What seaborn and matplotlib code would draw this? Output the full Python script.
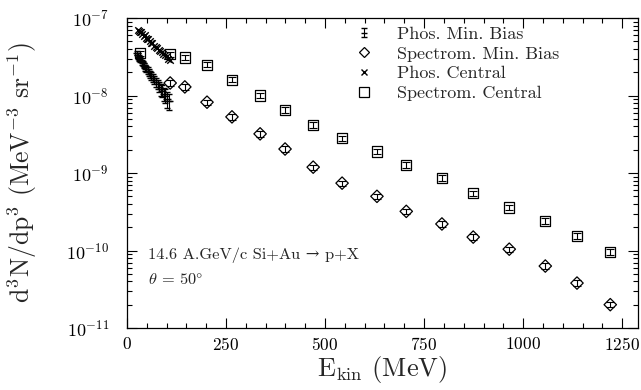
import numpy as np
import pandas as pd
import matplotlib
matplotlib.use("Agg")
import matplotlib.pyplot as plt
from matplotlib.lines import Line2D
from matplotlib.container import ErrorbarContainer
from matplotlib.legend_handler import HandlerErrorbar
from matplotlib.ticker import MultipleLocator, LogLocator, NullFormatter
import seaborn as sns

# Phoswich, minimum bias
phos_mb_e = [25, 28, 31, 34, 37, 40, 43, 46, 49, 52, 55, 58, 61, 65, 69, 73, 77, 81, 85, 89, 93, 97, 101, 105]
phos_mb_y = [3.5e-8, 3.3e-8, 3.0e-8, 2.9e-8, 2.7e-8, 2.6e-8, 2.45e-8, 2.3e-8, 2.2e-8, 2.1e-8, 2.0e-8, 1.9e-8,
             1.8e-8, 1.7e-8, 1.6e-8, 1.5e-8, 1.4e-8, 1.3e-8, 1.2e-8, 1.15e-8, 1.05e-8, 1.0e-8, 0.9e-8, 0.85e-8]
phos_mb_err = [0.2e-8, 0.2e-8, 0.2e-8, 0.2e-8, 0.2e-8, 0.2e-8, 0.2e-8, 0.2e-8, 0.2e-8, 0.2e-8, 0.2e-8, 0.2e-8,
               0.2e-8, 0.2e-8, 0.2e-8, 0.2e-8, 0.2e-8, 0.2e-8, 0.2e-8, 0.2e-8, 0.2e-8, 0.2e-8, 0.2e-8, 0.2e-8]

# Phoswich, central
phos_c_e = [27, 30, 33, 36, 39, 42, 45, 48, 51, 54, 57, 60, 64, 68, 72, 76, 80, 84, 88, 92, 96, 100, 104, 108]
phos_c_y = [7.0e-8, 6.8e-8, 6.5e-8, 6.6e-8, 6.2e-8, 5.9e-8, 6.0e-8, 5.6e-8, 5.3e-8, 5.4e-8, 5.0e-8, 4.8e-8,
            4.7e-8, 4.4e-8, 4.2e-8, 4.1e-8, 3.9e-8, 3.7e-8, 3.6e-8, 3.4e-8, 3.3e-8, 3.2e-8, 3.0e-8, 2.9e-8]

# Spectrometer, minimum bias
spec_mb_e = [109, 146, 202, 265, 336, 399, 470, 543, 631, 705, 795, 874, 965, 1056, 1136, 1220]
spec_mb_y = [1.45e-8, 1.29e-8, 8.2e-9, 5.3e-9, 3.2e-9, 2.04e-9, 1.19e-9, 7.4e-10, 5.0e-10, 3.2e-10,
             2.2e-10, 1.49e-10, 1.04e-10, 6.3e-11, 3.8e-11, 2.0e-11]

# Spectrometer, central
spec_c_e = [33, 109, 146, 202, 265, 336, 399, 470, 543, 631, 705, 795, 874, 965, 1056, 1136, 1220]
spec_c_y = [3.5e-8, 3.4e-8, 3.1e-8, 2.5e-8, 1.6e-8, 1.0e-8, 6.5e-9, 4.2e-9, 2.8e-9, 1.9e-9, 1.27e-9,
            8.6e-10, 5.5e-10, 3.6e-10, 2.4e-10, 1.55e-10, 9.6e-11]

legend_labels = ["Phos. Min. Bias", "Spectrom. Min. Bias", "Phos. Central", "Spectrom. Central"]

sns.set_theme(style="ticks")
plt.rcParams["font.family"] = ["cmr10", "DejaVu Serif"]
plt.rcParams["mathtext.fontset"] = "cm"
plt.rcParams["axes.formatter.use_mathtext"] = True
plt.rcParams["axes.unicode_minus"] = False

fig = plt.figure(figsize=(6.41, 3.90), dpi=100)
ax = fig.add_axes([127 / 641, 1 - 328 / 390, (638 - 127) / 641, (328 - 18) / 390])

# spectrometer central: open squares with vertical error bars
spec_c = pd.DataFrame({"E": spec_c_e, "y": spec_c_y})
ax.errorbar(spec_c["E"], spec_c["y"], yerr=0.08 * spec_c["y"], fmt="none",
            ecolor="black", elinewidth=0.8, capsize=3, capthick=0.8, zorder=3)
sns.scatterplot(data=spec_c, x="E", y="y", marker="s", s=55, facecolor="none",
                edgecolor="black", linewidth=0.9, ax=ax, zorder=4)

# spectrometer minimum bias: open diamonds with error bars
spec_mb = pd.DataFrame({"E": spec_mb_e, "y": spec_mb_y})
ax.errorbar(spec_mb["E"], spec_mb["y"], yerr=0.08 * spec_mb["y"], fmt="none",
            ecolor="black", elinewidth=0.8, capsize=3, capthick=0.8, zorder=3)
sns.scatterplot(data=spec_mb, x="E", y="y", marker="D", s=40, facecolor="none",
                edgecolor="black", linewidth=0.9, ax=ax, zorder=4)

# phoswich central: crosses
phos_c = pd.DataFrame({"E": phos_c_e, "y": phos_c_y})
sns.scatterplot(data=phos_c, x="E", y="y", marker="x", s=22, color="black",
                linewidth=1.0, ax=ax, zorder=5)

# phoswich minimum bias: points with error bars
phos_mb = pd.DataFrame({"E": phos_mb_e, "y": phos_mb_y, "err": phos_mb_err})
phos_mb_bars = ax.errorbar(phos_mb["E"], phos_mb["y"], yerr=phos_mb["err"], fmt="_",
                           color="black", markersize=5, markeredgewidth=1.0,
                           elinewidth=0.8, capsize=2.5, capthick=0.8, zorder=5)
sns.scatterplot(data=phos_mb, x="E", y="y", marker="_", s=30, color="black",
                linewidth=1.0, ax=ax, zorder=5)

ax.set_yscale("log")
ax.set_xlim(0, 1290)
ax.set_ylim(1e-11, 1e-7)

ax.xaxis.set_major_locator(MultipleLocator(250))
ax.xaxis.set_minor_locator(MultipleLocator(50))
ax.yaxis.set_major_locator(LogLocator(base=10, numticks=10))
ax.yaxis.set_minor_locator(LogLocator(base=10, subs=np.arange(2, 10), numticks=20))
ax.yaxis.set_minor_formatter(NullFormatter())

ax.tick_params(which="both", direction="in", top=True, right=True, colors="black", width=0.8)
ax.tick_params(which="major", length=7)
ax.tick_params(which="minor", length=3.5)
ax.tick_params(axis="x", which="major", pad=6, labelsize=12.5)
ax.tick_params(axis="y", which="major", pad=13, labelsize=13)
for sp in ax.spines.values():
    sp.set_linewidth(0.9)
    sp.set_color("black")

ax.set_xlabel(r"E$_{\mathrm{kin}}$ (MeV)", fontsize=19)
ax.set_ylabel(r"d$^3$N/dp$^3$ (MeV$^{-3}$ sr$^{-1}$)", fontsize=18.5)
ax.xaxis.set_label_coords(0.5, -0.083)
ax.yaxis.set_label_coords(-0.172, 0.5)

ax.text(0.042, 0.235, "14.6 A.GeV/c Si+Au \u2192 p+X", transform=ax.transAxes,
        fontsize=11.8, va="center", ha="left")
ax.text(0.042, 0.155, r"$\theta$ = 50$\degree$", transform=ax.transAxes,
        fontsize=11.8, va="center", ha="left")

handles = [
    phos_mb_bars,
    Line2D([], [], marker="D", linestyle="none", markerfacecolor="none",
           markeredgecolor="black", markersize=5, markeredgewidth=0.9),
    Line2D([], [], marker="x", linestyle="none", color="black", markersize=5),
    Line2D([], [], marker="s", linestyle="none", markerfacecolor="none",
           markeredgecolor="black", markersize=7, markeredgewidth=0.9),
]
ax.legend(handles, legend_labels, loc="upper left", bbox_to_anchor=(0.415, 1.025),
          frameon=False, fontsize=13, handlelength=1.0, handletextpad=1.3,
          labelspacing=0.22,
          handler_map={ErrorbarContainer: HandlerErrorbar(xerr_size=0.25, yerr_size=0.25)})

fig.savefig("out.png", dpi=100)
